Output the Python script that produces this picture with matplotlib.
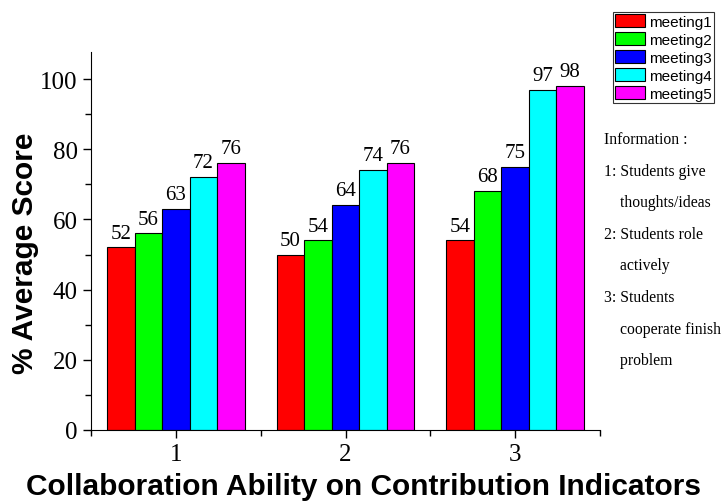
import numpy as np
import matplotlib.pyplot as plt
from matplotlib.ticker import MultipleLocator

indicators = [1, 2, 3]
series_names = ["meeting1", "meeting2", "meeting3", "meeting4", "meeting5"]
meeting1 = [52, 50, 54]
meeting2 = [56, 54, 68]
meeting3 = [63, 64, 75]
meeting4 = [72, 74, 97]
meeting5 = [76, 76, 98]
colors = ["#ff0000", "#00ff00", "#0000ff", "#00ffff", "#ff00ff"]
info_lines = ["Information :", "1: Students give", "    thoughts/ideas", "2: Students role",
              "    actively", "3: Students", "    cooperate finish", "    problem"]

serif = "Liberation Serif"
sans = "Liberation Sans"

fig = plt.figure(figsize=(7.28, 5.02), dpi=100)
ax = fig.add_axes([91 / 728, 1 - 431 / 502, 509 / 728, 378 / 502])

x = np.array(indicators, dtype=float)
width = 0.162
values = [meeting1, meeting2, meeting3, meeting4, meeting5]
for i, (vals, c, name) in enumerate(zip(values, colors, series_names)):
    pos = x + (i - 2) * width
    bars = ax.bar(pos, vals, width, color=c, edgecolor="black", linewidth=0.8, label=name)
    for b, v in zip(bars, vals):
        ax.text(b.get_x() + b.get_width() / 2, v + 1.4, str(v), ha="center", va="bottom",
                fontsize=15, family=serif)

ax.set_xlim(0.5, 3.5)
ax.set_ylim(0, 107.7)
ax.set_xticks(indicators)
ax.set_xticks([0.5, 1.5, 2.5, 3.5], minor=True)
ax.yaxis.set_major_locator(MultipleLocator(20))
ax.yaxis.set_minor_locator(MultipleLocator(10))
ax.tick_params(axis="both", which="major", direction="out", length=6, width=1, labelsize=18)
ax.tick_params(axis="both", which="minor", direction="out", length=4, width=1)
for lab in ax.get_xticklabels() + ax.get_yticklabels():
    lab.set_family(serif)
for s in ["top", "right"]:
    ax.spines[s].set_visible(False)

ax.set_ylabel("% Average Score", fontsize=21.5, fontweight="bold", family=sans)
ax.yaxis.set_label_coords(-0.103, 0.47)
ax.set_xlabel("Collaboration Ability on Contribution Indicators", fontsize=21.5,
              fontweight="bold", family=sans)
ax.xaxis.set_label_coords(0.536, -0.112)

leg = fig.legend(loc="upper left", bbox_to_anchor=(613 / 728, 1 - 13 / 502),
                 prop={"family": sans, "size": 11}, frameon=True, fancybox=False,
                 edgecolor="black", borderpad=0.12, labelspacing=0.22, handlelength=2.0,
                 handleheight=0.92, handletextpad=0.26, borderaxespad=0)
leg.get_frame().set_linewidth(0.8)

for k, line in enumerate(info_lines):
    fig.text(604 / 728, 1 - (140 + k * 31.6) / 502, line, fontsize=11.3, family=serif,
             va="center", ha="left")

fig.savefig("out.png", dpi=100)
